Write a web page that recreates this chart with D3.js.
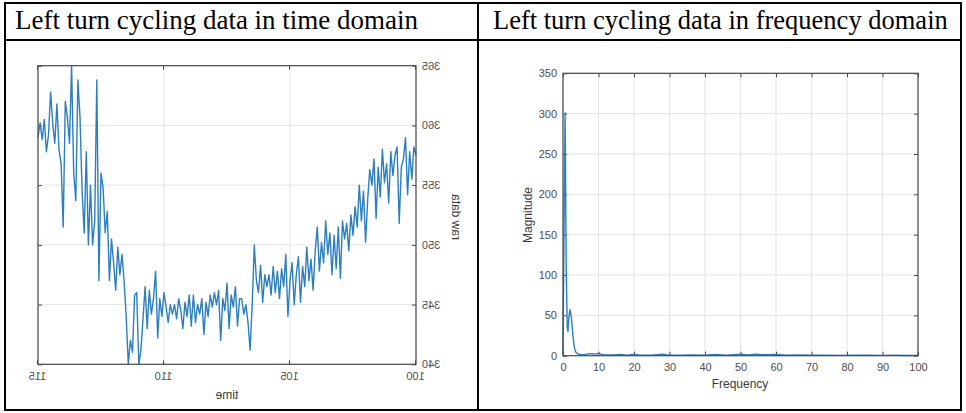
<!DOCTYPE html>
<html>
<head>
<meta charset="utf-8">
<script src="https://cdn.jsdelivr.net/npm/d3@7"></script>
<style>
  body { margin: 0; background: #fff; }
  svg { display: block; }
  .header { font-family: 'Liberation Serif', 'Times New Roman', Times, serif; font-size: 24px; }
</style>
</head>
<body>
<div id="chart"></div>
<script>
const headers = ['Left turn cycling data in time domain', 'Left turn cycling data in frequency domain'];

// time domain (raw data sampled every 1/12 time unit from 100 to 115)
const timeStart = 100;
const timeStep = 1 / 12;
const rawData = [
  357.5, 358.2, 355.5, 357.8, 354.2, 359.0, 357.2, 356.5, 351.8, 358.2, 357.5, 355.8,
  357.8, 353.5, 356.8, 355.2, 358.0, 354.0, 356.5, 352.2, 357.2, 355.0, 356.3, 353.8,
  350.2, 354.5, 352.0, 355.0, 351.5, 353.2, 350.8, 352.5, 349.5, 351.8, 350.5, 352.0,
  347.2, 351.5, 348.0, 350.8, 347.5, 351.0, 349.2, 352.0, 348.5, 350.2, 347.8, 351.5,
  349.5, 346.2, 348.8, 347.0, 349.8, 346.5, 348.2, 345.2, 349.0, 347.5, 345.0, 348.5,
  347.0, 344.0, 349.2, 346.5, 348.0, 345.5, 347.8, 346.0, 348.2, 345.8, 347.5, 346.5,
  347.5, 345.2, 348.3, 346.0, 347.0, 350.0, 345.0, 341.2, 343.5, 345.0, 344.2, 345.5,
  345.5, 343.2, 346.5, 344.8, 345.8, 343.0, 346.8, 344.5, 345.5, 342.0, 346.2, 345.0,
  346.0, 344.8, 345.8, 344.0, 345.2, 342.5, 345.5, 344.2, 345.0, 343.5, 345.8, 343.2,
  345.8, 344.0, 345.2, 343.0, 344.5, 345.5, 343.8, 345.0, 344.2, 345.0, 343.5, 344.8,
  346.0, 344.0, 345.5, 342.2, 347.8, 345.5, 344.2, 346.2, 343.0, 346.5, 343.8, 341.2,
  340.0, 346.0, 345.8, 341.0, 342.0, 340.0, 344.0, 347.0, 349.2, 347.5, 349.8, 346.2,
  348.5, 350.5, 347.0, 352.8, 351.0, 354.8, 356.0, 347.0, 363.8, 352.0, 350.0, 355.0,
  350.0, 357.8, 351.0, 354.5, 360.7, 363.8, 353.7, 356.0, 365.0, 358.5, 360.7, 362.0,
  351.5, 356.8, 358.0, 361.8, 358.5, 360.2, 362.8, 359.2, 357.8, 360.5, 358.8, 360.2, 359.0
];
const timeTicks = [100, 105, 110, 115];
const rawTicks = [340, 345, 350, 355, 360, 365];

// frequency domain
const freqs = [0, 0.3, 0.6, 0.9, 1.2, 1.4, 1.7, 2.0, 2.4, 2.8, 3.2, 3.6, 4.0, 4.5, 5, 6, 7, 8, 9, 10,
  11, 12, 14, 16, 18, 20, 22, 25, 28, 30, 33, 36, 40, 43, 46, 50, 52, 54, 57, 60,
  63, 66, 70, 74, 78, 82, 86, 90, 94, 97, 100];
const magnitudes = [0, 160, 301, 110, 35, 30, 50, 57, 46, 25, 10, 4.5, 2.8, 1.8, 1.5, 1.2, 2.2, 2.5, 2.0, 2.8,
  1.6, 1.0, 0.8, 1.5, 0.6, 1.4, 0.5, 0.7, 1.8, 0.6, 0.5, 0.9, 0.6, 1.7, 0.5, 1.8, 1.0, 2.0, 1.2, 1.5,
  0.6, 0.8, 0.5, 0.7, 0.4, 0.6, 0.5, 0.4, 0.6, 0.3, 0.4];
const freqTicks = [0, 10, 20, 30, 40, 50, 60, 70, 80, 90, 100];
const magTicks = [0, 50, 100, 150, 200, 250, 300, 350];

const width = 966;
const height = 413;
const lineColor = '#2b7fc1';
const font = "'Liberation Sans', Arial, Helvetica, sans-serif";

const svg = d3.select('#chart')
  .append('svg')
  .attr('width', width)
  .attr('height', height);

// table frame
const table = svg.append('g')
  .attr('fill', 'none')
  .attr('stroke', '#000')
  .attr('stroke-width', 2);
table.append('rect').attr('x', 5).attr('y', 3).attr('width', 956).attr('height', 407);
table.append('line').attr('x1', 5).attr('x2', 961).attr('y1', 40).attr('y2', 40);
table.append('line').attr('x1', 478).attr('x2', 478).attr('y1', 3).attr('y2', 410);

// header text: fit the natural width of the font to the cell text width
function header(text, x, targetWidth) {
  const t = svg.append('text')
    .attr('class', 'header')
    .attr('x', x).attr('y', 29)
    .text(text);
  const w = t.node().getComputedTextLength();
  if (w > 0) t.style('font-size', (24 * targetWidth / w).toFixed(2) + 'px');
}
header(headers[0], 15, 403);
header(headers[1], 493, 455);

// MATLAB-like axes box with grid and inward ticks
function drawAxes(g, x, y, xTicks, yTicks) {
  const [x0, x1] = x.range();
  const [y0, y1] = y.range();

  const grid = g.append('g').attr('stroke', '#e4e4e4').attr('stroke-width', 1);
  grid.selectAll('.gx').data(xTicks).enter().append('line')
    .attr('x1', d => x(d)).attr('x2', d => x(d))
    .attr('y1', y0).attr('y2', y1);
  grid.selectAll('.gy').data(yTicks).enter().append('line')
    .attr('x1', x0).attr('x2', x1)
    .attr('y1', d => y(d)).attr('y2', d => y(d));

  const styleAxis = (sel) => {
    sel.select('.domain').remove();
    sel.selectAll('line').attr('stroke', '#4a4a4a');
    sel.selectAll('text')
      .attr('fill', '#4d4d4d')
      .style('font-family', font)
      .style('font-size', '11px');
  };

  g.append('g').attr('transform', `translate(0,${y0})`)
    .call(d3.axisBottom(x).tickValues(xTicks).tickSize(-4).tickPadding(8))
    .call(styleAxis);
  g.append('g').attr('transform', `translate(0,${y1})`)
    .call(d3.axisTop(x).tickValues(xTicks).tickSize(-4).tickFormat(''))
    .call(styleAxis);
  g.append('g').attr('transform', `translate(${x0},0)`)
    .call(d3.axisLeft(y).tickValues(yTicks).tickSize(-4).tickPadding(6))
    .call(styleAxis);
  g.append('g').attr('transform', `translate(${x1},0)`)
    .call(d3.axisRight(y).tickValues(yTicks).tickSize(-4).tickFormat(''))
    .call(styleAxis);
}

function drawBox(g, x, y) {
  const [x0, x1] = x.range();
  const [y0, y1] = y.range();
  g.append('rect')
    .attr('x', x0).attr('y', y1)
    .attr('width', x1 - x0).attr('height', y0 - y1)
    .attr('fill', 'none')
    .attr('stroke', '#4a4a4a')
    .attr('stroke-width', 1.2);
}

function axisLabel(g, text, x, y, rotate) {
  g.append('text')
    .attr('transform', `translate(${x},${y})` + (rotate ? ' rotate(-90)' : ''))
    .attr('text-anchor', 'middle')
    .attr('fill', '#3a3a3a')
    .style('font-family', font)
    .style('font-size', '12px')
    .text(text);
}

// left panel: drawn normally, then mirrored as in the source picture
const left = svg.append('g').attr('transform', 'translate(454,0) scale(-1,1)');
const xTime = d3.scaleLinear().domain([100, 115]).range([38, 416]);
const yRaw = d3.scaleLinear().domain([340, 365]).range([364.3, 65.7]);

drawAxes(left, xTime, yRaw, timeTicks, rawTicks);
left.append('path')
  .datum(rawData)
  .attr('fill', 'none')
  .attr('stroke', lineColor)
  .attr('stroke-width', 1.4)
  .attr('stroke-linejoin', 'round')
  .attr('d', d3.line()
    .x((d, i) => xTime(timeStart + i * timeStep))
    .y(d => yRaw(d)));
drawBox(left, xTime, yRaw);
axisLabel(left, 'time', 227, 399, false);
axisLabel(left, 'raw data', 2, 217, true);

// right panel: frequency spectrum
const right = svg.append('g');
const xFreq = d3.scaleLinear().domain([0, 100]).range([563, 918]);
const yMag = d3.scaleLinear().domain([0, 350]).range([355.7, 73.3]);

drawAxes(right, xFreq, yMag, freqTicks, magTicks);
right.append('path')
  .datum(freqs.map((f, i) => [f, magnitudes[i]]))
  .attr('fill', 'none')
  .attr('stroke', lineColor)
  .attr('stroke-width', 1.4)
  .attr('stroke-linejoin', 'round')
  .attr('d', d3.line()
    .x(d => xFreq(d[0]))
    .y(d => yMag(d[1])));
drawBox(right, xFreq, yMag);
axisLabel(right, 'Frequency', 740, 388, false);
axisLabel(right, 'Magnitude', 532, 215, true);
</script>
</body>
</html>
